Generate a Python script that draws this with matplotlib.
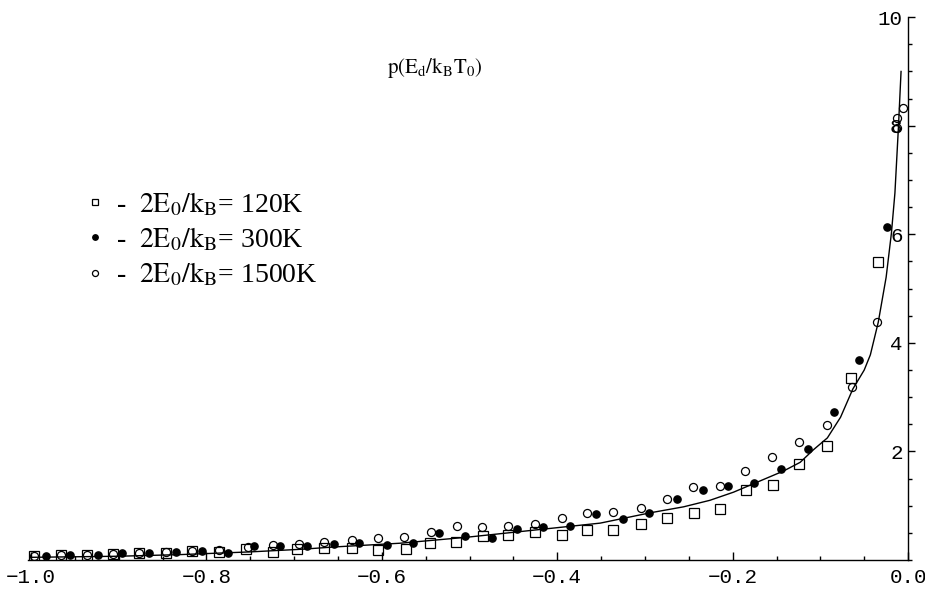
import numpy as np
import matplotlib
matplotlib.use("Agg")
import matplotlib.pyplot as plt
from matplotlib.ticker import MultipleLocator

plt.rcParams['mathtext.fontset'] = 'stix'
plt.rcParams['font.family'] = ['Liberation Serif', 'DejaVu Serif']

# model curve
curve_x = [-1.0, -0.9, -0.83, -0.75, -0.69, -0.655, -0.579, -0.503, -0.427, -0.351,
           -0.294, -0.256, -0.226, -0.199, -0.180, -0.161, -0.142, -0.123, -0.108,
           -0.092, -0.077, -0.063, -0.050, -0.043, -0.034, -0.025, -0.019, -0.015,
           -0.011, -0.008]
curve_y = [0.05, 0.07, 0.10, 0.15, 0.20, 0.24, 0.31, 0.42, 0.55, 0.68,
           0.87, 0.98, 1.10, 1.25, 1.38, 1.51, 1.64, 1.80, 2.03,
           2.25, 2.63, 3.15, 3.50, 3.78, 4.38, 5.21, 6.02, 6.76,
           7.97, 9.0]

# 2E0/kB = 120K (open squares)
sq_x = [-0.997, -0.966, -0.936, -0.906, -0.877, -0.846, -0.816, -0.786, -0.755, -0.724,
        -0.697, -0.666, -0.634, -0.604, -0.573, -0.545, -0.515, -0.485, -0.456, -0.425,
        -0.395, -0.366, -0.336, -0.305, -0.275, -0.244, -0.215, -0.185, -0.154, -0.124,
        -0.093, -0.065, -0.034]
sq_y = [0.07, 0.09, 0.09, 0.11, 0.13, 0.13, 0.17, 0.15, 0.20, 0.15,
        0.20, 0.22, 0.22, 0.18, 0.20, 0.31, 0.33, 0.44, 0.46, 0.52,
        0.46, 0.55, 0.55, 0.66, 0.77, 0.87, 0.94, 1.29, 1.38, 1.77,
        2.10, 3.35, 5.49]

# 2E0/kB = 300K (filled circles)
fc_x = [-0.983, -0.955, -0.924, -0.896, -0.866, -0.835, -0.805, -0.775, -0.746, -0.716,
        -0.685, -0.655, -0.626, -0.594, -0.564, -0.535, -0.505, -0.474, -0.446, -0.416,
        -0.385, -0.356, -0.325, -0.295, -0.264, -0.234, -0.205, -0.176, -0.145, -0.114,
        -0.084, -0.056, -0.024]
fc_y = [0.07, 0.09, 0.09, 0.13, 0.13, 0.15, 0.17, 0.13, 0.26, 0.26,
        0.26, 0.29, 0.31, 0.28, 0.31, 0.49, 0.44, 0.40, 0.57, 0.60,
        0.63, 0.85, 0.76, 0.87, 1.12, 1.29, 1.37, 1.41, 1.68, 2.04,
        2.72, 3.68, 6.14]

# 2E0/kB = 1500K (open circles)
oc_x = [-0.997, -0.966, -0.936, -0.906, -0.877, -0.846, -0.816, -0.786, -0.753, -0.724,
        -0.694, -0.666, -0.634, -0.604, -0.575, -0.544, -0.514, -0.486, -0.456, -0.425,
        -0.395, -0.366, -0.336, -0.305, -0.275, -0.245, -0.215, -0.186, -0.155, -0.124,
        -0.093, -0.064, -0.035, -0.013, -0.013, -0.006]
oc_y = [0.08, 0.09, 0.10, 0.12, 0.13, 0.15, 0.17, 0.18, 0.24, 0.28,
        0.29, 0.33, 0.36, 0.41, 0.42, 0.51, 0.62, 0.61, 0.63, 0.66,
        0.77, 0.86, 0.88, 0.96, 1.12, 1.35, 1.37, 1.64, 1.89, 2.17,
        2.48, 3.19, 4.38, 7.96, 8.14, 8.33]

labels = [r"-  $\mathrm{2E_0/k_B}$= 120K",
          r"-  $\mathrm{2E_0/k_B}$= 300K",
          r"-  $\mathrm{2E_0/k_B}$= 1500K"]

fig = plt.figure(figsize=(9.25, 5.92), dpi=100)
ax = fig.add_axes([0.0307, 0.054, 0.951, 0.917])

ax.plot(curve_x, curve_y, color='black', linewidth=1.0, zorder=2)
h1, = ax.plot(sq_x, sq_y, 's', markersize=6.5, markerfacecolor='none',
              markeredgecolor='black', markeredgewidth=0.9, zorder=3)
h2, = ax.plot(fc_x, fc_y, 'o', markersize=5.2, color='black', zorder=3)
h3, = ax.plot(oc_x, oc_y, 'o', markersize=5.8, markerfacecolor='none',
              markeredgecolor='black', markeredgewidth=0.9, zorder=3)

ax.set_xlim(-1.003, 0.0)
ax.set_ylim(0, 10)

ax.spines['top'].set_visible(False)
ax.spines['right'].set_visible(False)
ax.spines['left'].set_position(('data', 0))
for sp in ax.spines.values():
    sp.set_linewidth(1.0)

ax.xaxis.set_minor_locator(MultipleLocator(0.05))
ax.yaxis.set_minor_locator(MultipleLocator(0.5))
ax.set_xticks(np.arange(-1.0, 0.01, 0.2))
ax.set_xticklabels(["\u22121.0", "\u22120.8", "\u22120.6", "\u22120.4", "\u22120.2", "0.0"])
ax.set_yticks([2, 4, 6, 8, 10])
ax.set_yticklabels(["2", "4", "6", "8", "10"])

ax.tick_params(axis='x', which='major', direction='in', length=6, width=1, pad=6)
ax.tick_params(axis='x', which='minor', direction='in', length=3, width=1)
ax.tick_params(axis='y', which='major', direction='in', length=5, width=1, pad=4)
ax.tick_params(axis='y', which='minor', direction='in', length=3, width=1)
for lab in ax.get_xticklabels() + ax.get_yticklabels():
    lab.set_fontfamily('Liberation Mono')
    lab.set_fontsize(15)

ax.text(-0.540, 9.06, r"$\mathrm{p(E_d/k_BT_0)}$", ha='center', va='center', fontsize=15)

ax.legend([h1, h2, h3], labels, loc='upper left', bbox_to_anchor=(0.0665, 0.682),
          frameon=False, fontsize=20, handlelength=0.55, handletextpad=0.5,
          labelspacing=0.27, borderpad=0, borderaxespad=0, numpoints=1, markerscale=0.75)

fig.savefig("out.png", dpi=100)
